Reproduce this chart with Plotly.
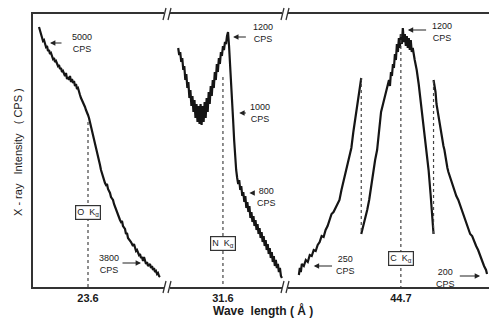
import plotly.graph_objects as go

# ---------------- data (wavelength in Å, pen deflection in arbitrary units) ----------------
o_x = [23.11,23.12,23.13,23.14,23.15,23.16,23.17,23.18,23.19,23.20,23.21,23.22,23.23,23.24,23.25,
       23.26,23.27,23.28,23.29,23.30,23.31,23.32,23.33,23.34,23.35,23.36,23.37,23.38,23.39,23.40,
       23.41,23.42,23.43,23.44,23.45,23.46,23.47,23.48,23.49,23.50,23.51,23.52,23.53,23.54,23.55,
       23.56,23.57,23.58,23.59,23.60,23.61,23.62,23.63,23.64,23.65,23.66,23.67,23.68,23.69,23.70,
       23.71,23.72,23.73,23.74,23.75,23.76,23.77,23.78,23.79,23.80,23.81,23.82,23.83,23.84,23.85,
       23.86,23.87,23.88,23.89,23.90,23.91,23.92,23.93,23.94,23.95,23.96,23.97,23.98,23.99,24.00,
       24.01,24.02,24.03,24.04,24.05,24.06,24.07,24.08,24.09,24.10,24.11,24.12,24.13,24.14,24.15,
       24.16,24.17,24.18,24.19,24.20,24.21,24.22,24.23,24.24,24.25,24.26,24.27,24.28,24.29,24.30,
       24.31,24.32]
o_y = [26.0,25.7,25.4,25.0,24.6,24.7,24.2,24.0,24.1,23.6,23.7,23.3,23.4,23.0,22.8,
       22.9,22.5,22.6,22.3,22.1,22.2,21.8,21.9,21.5,21.6,21.3,21.1,21.4,20.8,21.0,
       20.7,21.1,20.5,20.8,20.4,20.6,20.1,20.3,19.8,19.9,19.4,19.2,18.9,18.7,18.4,
       18.2,18.0,17.7,17.5,17.2,16.9,16.5,16.1,15.6,15.3,14.9,14.4,14.0,13.6,13.1,
       12.7,12.2,11.7,11.3,11.0,10.7,10.4,10.2,10.3,9.8,9.6,9.4,9.0,8.8,8.7,
       8.3,8.0,7.7,7.4,7.2,7.0,6.7,6.5,6.6,6.1,5.9,5.8,5.3,5.4,4.9,
       4.8,4.6,4.5,4.3,4.1,4.3,3.8,3.6,3.7,3.3,3.2,3.3,2.9,3.0,2.6,
       3.0,2.5,2.3,2.5,2.1,2.2,2.3,1.9,2.1,1.7,1.9,1.5,1.6,1.3,1.4,
       1.1,1.0]

n_x = [31.16,31.17,31.18,31.19,31.20,31.21,31.22,31.23,31.24,31.25,31.26,31.27,31.28,31.29,31.30,
       31.31,31.32,31.33,31.34,31.35,31.36,31.37,31.38,31.39,31.40,31.41,31.42,31.43,31.44,31.45,
       31.46,31.47,31.48,31.49,31.50,31.51,31.52,31.53,31.54,31.55,31.56,31.57,31.58,31.59,31.60,
       31.61,31.62,31.63,31.64,31.65,31.66,31.67,31.68,31.69,31.70,31.71,31.72,31.73,31.74,31.75,
       31.76,31.77,31.78,31.79,31.80,31.81,31.82,31.83,31.84,31.85,31.86,31.87,31.88,31.89,31.90,
       31.91,31.92,31.93,31.94,31.95,31.96,31.97,31.98,31.99,32.00,32.01,32.02,32.03,32.04,32.05,
       32.06,32.07,32.08,32.09,32.10,32.11,32.12,32.13,32.14,32.15,32.16,32.17,32.18]
n_y = [23.9,23.2,23.5,22.5,22.9,21.7,22.1,20.7,21.3,19.9,20.5,18.9,19.7,18.1,19.1,
       17.5,18.7,16.9,18.3,16.5,18.1,16.3,18.3,16.2,18.1,16.5,18.5,16.9,18.9,17.5,
       19.5,18.3,20.1,19.1,20.7,19.9,21.5,20.7,22.3,21.5,22.9,22.3,23.5,23.1,24.1,
       23.7,24.5,24.3,25.1,25.5,24.1,22.5,20.7,18.7,16.7,14.7,12.9,11.7,10.9,10.3,
       10.7,9.7,10.1,9.1,9.5,8.5,9.1,7.9,8.5,7.5,8.1,6.9,7.5,6.5,7.1,
       6.1,6.7,5.7,6.3,5.3,5.9,4.9,5.5,4.5,5.1,4.1,4.7,3.7,4.3,3.3,
       3.9,2.9,3.5,2.5,3.1,2.1,2.7,1.9,2.3,1.5,1.9,1.1,0.9]

c1_x = [43.67,43.68,43.69,43.70,43.72,43.74,43.76,43.78,43.80,43.82,43.84,43.86,43.88,43.90,43.92,
        43.94,43.96,43.98,44.00,44.02,44.04,44.06,44.08,44.10,44.12,44.14,44.16,44.18,44.20,44.22,
        44.24,44.26,44.28,44.30]
c1_y = [1.2,1.9,1.5,2.3,2.1,2.7,2.5,3.2,3.1,3.7,3.6,4.2,4.5,5.1,5.0,
        5.7,6.1,6.7,7.3,7.5,7.9,8.3,8.7,9.7,10.5,11.3,12.3,13.1,13.9,15.5,
        16.9,18.3,19.7,20.9]

c2_x = [44.30,44.32,44.34,44.36,44.38,44.40,44.42,44.44,44.46,44.48,44.50,44.52,44.54,44.56,44.58,
        44.59,44.60,44.61,44.62,44.63,44.64,44.65,44.66,44.67,44.68,44.69,44.70,44.71,44.72,44.73,
        44.74,44.75,44.76,44.77,44.78,44.79,44.80,44.81,44.82,44.84,44.86,44.88,44.90,44.92,44.94,
        44.96,44.98,45.00,45.02,45.03]
c2_y = [5.3,6.1,6.7,7.7,8.7,10.1,11.5,12.7,13.7,15.9,17.5,18.3,19.1,19.9,20.7,
        20.1,21.5,21.1,22.3,21.9,23.3,22.7,24.3,23.5,24.9,23.9,25.3,24.3,25.9,24.5,
        25.3,24.1,25.1,23.9,24.9,23.7,24.7,23.5,23.9,22.7,21.7,20.3,18.7,16.9,15.3,
        13.7,11.7,9.3,6.7,5.3]

c3_x = [45.03,45.04,45.05,45.06,45.07,45.08,45.09,45.10,45.12,45.13,45.14,45.15,45.16,45.17,45.18,
        45.20,45.22,45.24,45.26,45.28,45.30,45.32,45.34,45.36,45.38,45.40,45.42,45.44,45.46,45.48,
        45.50,45.52,45.54,45.56,45.57]
c3_y = [20.7,20.1,19.5,18.3,17.7,16.7,16.3,15.5,14.7,14.1,13.7,12.9,12.7,11.9,11.5,
        10.9,10.1,9.7,9.1,8.7,8.1,7.7,6.9,6.3,5.9,5.3,5.1,4.5,4.1,3.7,
        3.1,2.7,2.1,1.7,1.3]

line_wl = [23.6, 31.6, 44.7]
line_tick_text = ["23.6", "31.6", "44.7"]
line_names = ["O  K<sub>α</sub>", "N  K<sub>α</sub>", "C  K<sub>α</sub>"]
line_top = [16.5, 21.0, 25.3]
gain_joins_x = [44.30, 45.03]
gain_joins_y = [[20.9, 5.3], [5.3, 20.7]]

# ---------------- figure ----------------
W, H = 489, 319
ML, MR, MT, MB = 33, 0, 14, 32
PW, PH = W - ML - MR, H - MT - MB

def px(xp):
    return (xp - ML) / PW

def py(yp):
    return (H - MB - yp) / PH

FONT = "Liberation Sans"
INK = "#151515"
TXT = "#1a1a1a"
fig = go.Figure()

panels = [("x", o_x, o_y), ("x2", n_x, n_y), ("x3", c1_x, c1_y), ("x3", c2_x, c2_y), ("x3", c3_x, c3_y)]
for xa, xs, ys in panels:
    fig.add_trace(go.Scatter(x=xs, y=ys, xaxis=xa, yaxis="y", mode="lines",
                             line=dict(color=INK, width=2.2), showlegend=False, hoverinfo="skip"))

axes = ["x", "x2", "x3"]
for i, wl in enumerate(line_wl):
    fig.add_trace(go.Scatter(x=[wl, wl], y=[line_top[i], 0], xaxis=axes[i], yaxis="y", mode="lines",
                             line=dict(color="#444", width=1.2, dash="dot"), showlegend=False,
                             hoverinfo="skip"))
for gx, gy in zip(gain_joins_x, gain_joins_y):
    fig.add_trace(go.Scatter(x=[gx, gx], y=gy, xaxis="x3", yaxis="y", mode="lines",
                             line=dict(color="#444", width=1.2, dash="dot"), showlegend=False,
                             hoverinfo="skip"))

b1, b2 = px(167), px(285)
common_x = dict(showline=True, linecolor="#333", linewidth=2, mirror=True, ticks="",
                showgrid=False, zeroline=False, anchor="y", automargin=False,
                tickfont=dict(family=FONT, size=11, color=TXT))
fig.update_layout(
    width=W, height=H, margin=dict(l=ML, r=MR, t=MT, b=MB, autoexpand=False),
    paper_bgcolor="white", plot_bgcolor="white",
    xaxis=dict(domain=[0, b1], range=[23.05, 24.39], tickvals=[line_wl[0]], ticktext=["<b>23.6</b>"], **common_x),
    xaxis2=dict(domain=[b1, b2], range=[31.05, 32.21], tickvals=[line_wl[1]], ticktext=["<b>31.6</b>"], **common_x),
    xaxis3=dict(domain=[b2, 1], range=[43.53, 45.59], tickvals=[line_wl[2]], ticktext=["<b>44.7</b>"], **common_x),
    yaxis=dict(range=[0, 27.3], showline=True, linecolor="#333", linewidth=2, showticklabels=False,
               ticks="", showgrid=False, zeroline=False, automargin=False),
    showlegend=False, hovermode=False,
)

# label boxes
box_y = [7.5, 4.4, 2.9]
for i in range(3):
    fig.add_annotation(x=line_wl[i], y=box_y[i], xref=axes[i], yref="y", text=line_names[i],
                       showarrow=False, bgcolor="white", bordercolor="#333", borderwidth=1.2,
                       borderpad=1, font=dict(family=FONT, size=9, color=TXT))

# count-rate labels with arrows
cps = [
    # axis, head x, tail x, y, text x, text y, text
    ("x", 23.22, 23.35, 24.4, 23.54, 24.4, "5000<br>CPS"),
    ("x", 24.13, 23.93, 2.4, 23.81, 2.3, "3800<br>CPS"),
    ("x2", 31.70, 31.84, 25.0, 31.99, 25.4, "1200<br>CPS"),
    ("x2", 31.76, 31.84, 17.4, 31.96, 17.4, "1000<br>CPS"),
    ("x2", 31.86, 31.91, 9.4, 32.03, 9.0, "800<br>CPS"),
    ("x3", 44.77, 44.97, 25.7, 45.12, 25.5, "1200<br>CPS"),
    ("x3", 43.82, 44.02, 2.1, 44.14, 2.2, "250<br>CPS"),
    ("x3", 45.50, 45.28, 1.1, 45.15, 0.9, "200<br>CPS"),
]
for xa, hx, tx, yy, lx, ly, t in cps:
    fig.add_annotation(x=hx, y=yy, xref=xa, yref="y", ax=tx, ay=yy, axref=xa, ayref="y",
                       text="", showarrow=True, arrowhead=2, arrowsize=0.9, arrowwidth=1.2,
                       arrowcolor="#222")
    fig.add_annotation(x=lx, y=ly, xref=xa, yref="y", text=t, showarrow=False,
                       font=dict(family=FONT, size=9, color=TXT))

# axis titles
fig.add_annotation(x=px(263), y=py(310), xref="paper", yref="paper", text="<b>Wave  length ( Å )</b>",
                   xanchor="center", yanchor="middle",
                   showarrow=False, font=dict(family=FONT, size=12, color=TXT))
fig.add_annotation(x=px(18), y=py(152), xref="paper", yref="paper", text="X - ray   Intensity   ( CPS )",
                   xanchor="center", yanchor="middle",
                   showarrow=False, textangle=-90, font=dict(family=FONT, size=11, color=TXT))

# axis break marks
for bx in [167, 285]:
    for by in [14, 287]:
        fig.add_shape(type="rect", xref="paper", yref="paper", x0=px(bx - 3), x1=px(bx + 3),
                      y0=py(by + 3), y1=py(by - 3), fillcolor="white", line=dict(width=0))
        for dx in [-2.5, 2.5]:
            fig.add_shape(type="line", xref="paper", yref="paper",
                          x0=px(bx + dx - 1.5), y0=py(by + 6), x1=px(bx + dx + 1.5), y1=py(by - 6),
                          line=dict(color="#333", width=1.3))

fig.write_html("out.html", config={"displayModeBar": False, "staticPlot": True},
               post_script="document.body.style.margin='0';document.body.style.overflow='hidden';")
